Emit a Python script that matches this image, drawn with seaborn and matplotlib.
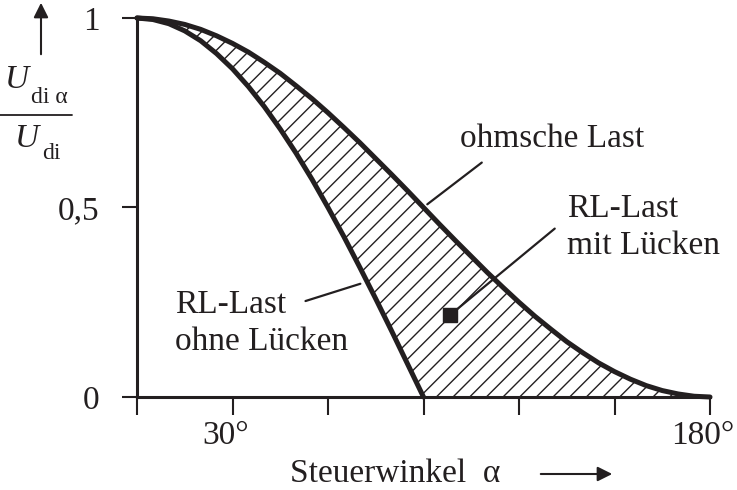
import numpy as np
import pandas as pd
import matplotlib
matplotlib.use('Agg')
import matplotlib.pyplot as plt
import matplotlib.transforms as mtransforms
import seaborn as sns

# Werte (Steuerwinkel in Grad, Udi_alpha / Udi)
winkel_ohm = [0, 5, 10, 15, 20, 25, 30, 35, 40, 45, 50, 55, 60, 65, 70, 75, 80, 85, 90,
              95, 100, 105, 110, 115, 120, 125, 130, 135, 140, 145, 150, 155, 160, 165,
              170, 175, 180]
u_ohm = [1.000, 0.998, 0.992, 0.983, 0.970, 0.953, 0.933, 0.910, 0.883, 0.854, 0.821,
         0.787, 0.750, 0.711, 0.671, 0.629, 0.587, 0.544, 0.500, 0.456, 0.413, 0.371,
         0.329, 0.289, 0.250, 0.213, 0.179, 0.146, 0.117, 0.090, 0.067, 0.047, 0.030,
         0.017, 0.008, 0.002, 0.000]

winkel_rl = [0, 5, 10, 15, 20, 25, 30, 35, 40, 45, 50, 55, 60, 65, 70, 75, 80, 85, 90]
u_rl = [1.000, 0.996, 0.985, 0.966, 0.940, 0.906, 0.866, 0.819, 0.766, 0.707, 0.643,
        0.574, 0.500, 0.423, 0.342, 0.259, 0.174, 0.087, 0.000]

x_ticks = [0, 30, 60, 90, 120, 150, 180]
x_ticklabels = ['', '30°', '', '', '', '', '180°']
y_ticks = [0, 0.5, 1]
y_ticklabels = ['0', '0,5', '1']

INK = '#231f20'

sns.set_style('ticks')
plt.rcParams['font.family'] = ['Liberation Serif', 'DejaVu Serif']
plt.rcParams['hatch.linewidth'] = 1.0
plt.rcParams['hatch.color'] = INK

fig = plt.figure(figsize=(7.37, 4.9), dpi=100)
ax = fig.add_axes([137 / 737, 93 / 490, 573 / 737, 379 / 490])

# schraffierter Bereich zwischen den beiden Kennlinien
untere = pd.Series(u_rl, index=winkel_rl).reindex(winkel_ohm).fillna(0.0)
ax.fill_between(winkel_ohm, untere.values, u_ohm, facecolor='none', edgecolor=INK,
                hatch='//', linewidth=0)

sns.lineplot(x=winkel_ohm, y=u_ohm, ax=ax, color=INK, linewidth=3.6, clip_on=False,
             solid_joinstyle='round', solid_capstyle='round')
sns.lineplot(x=winkel_rl, y=u_rl, ax=ax, color=INK, linewidth=3.6, clip_on=False,
             solid_joinstyle='round', solid_capstyle='round')

ax.set_xlim(0, 180)
ax.set_ylim(0, 1)
ax.set_xticks(x_ticks)
ax.set_xticklabels(x_ticklabels)
ax.set_yticks(y_ticks)
ax.set_yticklabels(y_ticklabels)
ax.tick_params(axis='x', direction='out', length=13, width=1.5, colors=INK,
               labelsize=24, pad=4)
ax.tick_params(axis='y', direction='out', length=11, width=1.5, colors=INK,
               labelsize=24, pad=16)
# Ziffern mittig unter dem Strich, Gradzeichen steht rechts ueber
shift = mtransforms.ScaledTranslation(-5 / 72, 0, fig.dpi_scale_trans)
for lbl in ax.get_xticklabels():
    lbl.set_transform(lbl.get_transform() + shift)
ax.set_xlabel('')
ax.set_ylabel('')
sns.despine(ax=ax)
for s in ['left', 'bottom']:
    ax.spines[s].set_linewidth(2.2)
    ax.spines[s].set_color(INK)

# Beschriftungen mit Hinweislinien
fs = 24
ax.text(101.5, 0.660, 'ohmsche Last', fontsize=fs, color=INK, va='baseline')
ax.annotate('', xy=(90.5, 0.504), xytext=(109.0, 0.623),
            arrowprops=dict(arrowstyle='-', color=INK, lw=1.6))

ax.text(135.1, 0.475, 'RL-Last', fontsize=fs, color=INK, va='baseline')
ax.text(135.1, 0.377, 'mit Lücken', fontsize=fs, color=INK, va='baseline')
ax.annotate('', xy=(98.3, 0.216), xytext=(131.9, 0.449),
            arrowprops=dict(arrowstyle='-', color=INK, lw=1.6))
ax.plot([98.3], [0.216], marker='s', markersize=9.5, color=INK)

ax.text(11.9, 0.222, 'RL-Last', fontsize=fs, color=INK, va='baseline')
ax.text(11.9, 0.124, 'ohne Lücken', fontsize=fs, color=INK, va='baseline')
ax.annotate('', xy=(71.0, 0.301), xytext=(52.1, 0.251),
            arrowprops=dict(arrowstyle='-', color=INK, lw=1.6))

# y-Achsenbeschriftung als Bruch
W, H = 737, 490
fig.text(5 / W, 1 - 88 / H, 'U', fontsize=24, style='italic', color=INK, va='baseline')
fig.text(31 / W, 1 - 103 / H, 'di α', fontsize=17, color=INK, va='baseline')
fig.add_artist(plt.Line2D([0, 72 / W], [1 - 115 / H, 1 - 115 / H], color=INK, lw=1.3))
fig.text(15 / W, 1 - 147 / H, 'U', fontsize=24, style='italic', color=INK, va='baseline')
fig.text(42 / W, 1 - 159 / H, 'di', fontsize=17, color=INK, va='baseline')
ax.annotate('', xy=(41 / W, 1.0), xytext=(41 / W, 1 - 57 / H),
            xycoords='figure fraction', textcoords='figure fraction',
            arrowprops=dict(arrowstyle='-|>', color=INK, lw=1.5, mutation_scale=22))

# x-Achsenbeschriftung mit Pfeil
fig.text(290 / W, 1 - 482 / H, 'Steuerwinkel  α', fontsize=24, color=INK, va='baseline')
ax.annotate('', xy=(615 / W, 1 - 474 / H), xytext=(538 / W, 1 - 474 / H),
            xycoords='figure fraction', textcoords='figure fraction',
            arrowprops=dict(arrowstyle='-|>', color=INK, lw=1.5, mutation_scale=22))

fig.savefig('out.png', dpi=100)
